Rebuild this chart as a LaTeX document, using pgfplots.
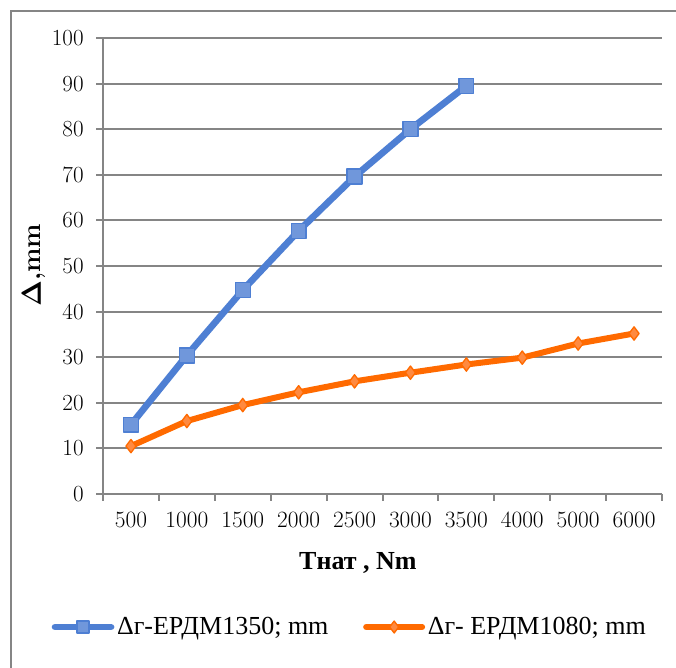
\documentclass[border=0pt]{standalone}
\usepackage[no-math]{fontspec}
\usepackage{pgfplots}
\pgfplotsset{compat=1.18}
\newfontfamily\tnr{Liberation Serif}
\definecolor{bl}{HTML}{4E7FD3}
\definecolor{blf}{HTML}{7097DB}
\definecolor{orl}{HTML}{FF6A00}
\definecolor{orf}{HTML}{FF8A40}
\definecolor{gr}{HTML}{858585}
\begin{document}
\begin{tikzpicture}
\useasboundingbox (0,0) rectangle (507pt,501pt);
\draw[gr, line width=1.5pt] (7.9pt,-20pt) -- (7.9pt,493pt) -- (530pt,493pt);
\begin{axis}[
  at={(77.25pt,130.5pt)}, anchor=south west,
  scale only axis, width=419.25pt, height=342pt,
  xmin=-0.5, xmax=9.5, ymin=0, ymax=100,
  xtick={0,...,9},
  xticklabels={500,1000,1500,2000,2500,3000,3500,4000,5000,6000},
  minor xtick={-0.5,0.5,...,9.5},
  ytick={0,10,...,100},
  axis x line*=bottom, axis y line*=left,
  ymajorgrids, major grid style={gr, line width=1.5pt},
  axis line style={gr, line width=1.5pt, -},
  every tick/.style={gr, line width=1.5pt},
  tick align=outside,
  major tick length=5pt,
  major x tick style={draw=none},
  minor x tick style={gr, line width=1.5pt},
  minor tick length=5pt,
  tick label style={font=\fontsize{17.5}{19}\selectfont},
  xticklabel shift=5pt,
  yticklabel shift=6pt,
  xlabel={\tnr\bfseries Тнат , Nm},
  xlabel style={at={(axis description cs:0.456,-0.151)}, anchor=center, font=\fontsize{19.5}{22}\selectfont},
  ylabel={$\mathbf{\Delta}$\textbf{,mm}},
  ylabel style={at={(axis description cs:-0.1234,0.502)}, anchor=center, font=\fontsize{19.5}{22}\selectfont},
  legend columns=2,
  legend style={at={(axis description cs:0.442,-0.2917)}, anchor=center, draw=none, fill=none,
    font=\tnr\fontsize{19.5}{22}\selectfont,
    /tikz/every even column/.append style={column sep=24pt},
    inner sep=0pt, row sep=0pt},
  legend cell align=left,
  legend image code/.code={\draw[line cap=round,mark repeat=2,mark phase=2,#1,mark size=4.5pt] plot coordinates {(0pt,0pt) (21pt,0pt) (42pt,0pt)};},
  clip=false,
]
\addplot[bl, line width=5pt, line join=round, mark=square*, mark size=5.6pt,
  mark options={fill=blf, draw=bl, line width=1pt, solid}]
  coordinates {(0,15.2) (1,30.4) (2,44.7) (3,57.7) (4,69.6) (5,80.0) (6,89.5)};
\addlegendentry{Δг-ЕРДМ1350; mm}
\addplot[orl, line width=4.5pt, line join=round, mark=diamond*, mark size=5pt,
  mark options={fill=orf, draw=orl, line width=1pt, solid}]
  coordinates {(0,10.5) (1,16.0) (2,19.5) (3,22.3) (4,24.7) (5,26.6) (6,28.4) (7,29.9) (8,33.0) (9,35.2)};
\addlegendentry{Δг- ЕРДМ1080; mm}
\end{axis}
\end{tikzpicture}
\end{document}
